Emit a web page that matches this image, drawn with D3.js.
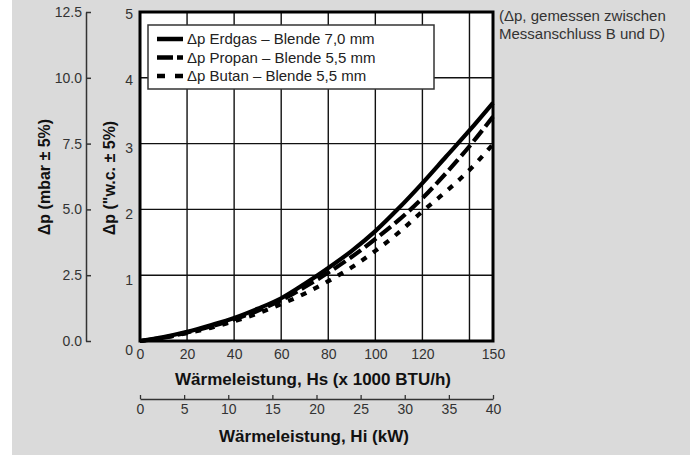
<!DOCTYPE html>
<html>
<head>
<meta charset="utf-8">
<script src="https://cdn.jsdelivr.net/npm/d3@7"></script>
<style>
  body { margin: 0; background: #fff; }
  text { font-family: "Liberation Sans", Arial, sans-serif; }
</style>
</head>
<body>
<svg id="chart" width="690" height="455"></svg>
<script>
// heat load Hs (x 1000 BTU/h)
const loadHs = [0, 10, 20, 30, 40, 50, 60, 70, 80, 90, 100, 110, 120, 130, 140, 150];
// pressure drop in "w.c.
const dpErdgas = [0, 0.06, 0.14, 0.24, 0.35, 0.49, 0.65, 0.87, 1.11, 1.37, 1.67, 2.02, 2.4, 2.8, 3.2, 3.62];
const dpPropan = [0, 0.05, 0.13, 0.22, 0.33, 0.46, 0.62, 0.82, 1.04, 1.28, 1.55, 1.84, 2.17, 2.55, 2.96, 3.41];
const dpButan = [0, 0.05, 0.12, 0.2, 0.3, 0.42, 0.56, 0.72, 0.91, 1.12, 1.37, 1.65, 1.97, 2.27, 2.6, 2.99];

const seriesNames = ["Δp Erdgas – Blende 7,0 mm", "Δp Propan – Blende 5,5 mm", "Δp Butan – Blende 5,5 mm"];

const hsTicks = [0, 20, 40, 60, 80, 100, 120, 150];
const hsGrid = [20, 40, 60, 80, 100, 120, 140];
const inwcTicks = [0, 1, 2, 3, 4, 5];
const mbarTicks = [0, 2.5, 5, 7.5, 10, 12.5];
const kwTicks = [0, 5, 10, 15, 20, 25, 30, 35, 40];

const svg = d3.select("#chart");

const x = d3.scaleLinear([0, 150], [140, 493]);
const xKw = d3.scaleLinear([0, 40], [140, 493]);
const y = d3.scaleLinear([0, 5], [341, 12]);
const yMbar = d3.scaleLinear([0, 12.5], [341, 12]);

// grey panel
svg.append("rect").attr("x", 12).attr("y", 0).attr("width", 678).attr("height", 455).attr("fill", "#dadada");

// plot area
svg.append("rect")
  .attr("x", x(0)).attr("y", y(5))
  .attr("width", x(150) - x(0)).attr("height", y(0) - y(5))
  .attr("fill", "#fff");

// grid
svg.append("g").selectAll("line").data(hsGrid).join("line")
  .attr("x1", d => x(d)).attr("x2", d => x(d))
  .attr("y1", y(0)).attr("y2", y(5))
  .attr("stroke", "#111").attr("stroke-width", 1.4);
svg.append("g").selectAll("line").data(inwcTicks.slice(1, -1)).join("line")
  .attr("x1", x(0)).attr("x2", x(150))
  .attr("y1", d => y(d)).attr("y2", d => y(d))
  .attr("stroke", "#111").attr("stroke-width", 1.4);

// curves
const styles = [
  { dash: null, legendDash: null },
  { dash: "14,5", legendDash: "16,4" },
  { dash: "6,8", legendDash: "8,10" },
];
const series = [dpErdgas, dpPropan, dpButan];
const line = d3.line()
  .x((d, i) => x(loadHs[i]))
  .y(d => y(d))
  .curve(d3.curveMonotoneX);

svg.append("g").selectAll("path").data(series).join("path")
  .attr("d", line)
  .attr("fill", "none")
  .attr("stroke", "#000")
  .attr("stroke-width", 4.2)
  .attr("stroke-dasharray", (d, i) => styles[i].dash);

// frame
svg.append("rect")
  .attr("x", x(0)).attr("y", y(5))
  .attr("width", x(150) - x(0)).attr("height", y(0) - y(5))
  .attr("fill", "none").attr("stroke", "#000").attr("stroke-width", 3);

// legend
const legend = svg.append("g");
legend.append("rect")
  .attr("x", 148).attr("y", 25).attr("width", 286).attr("height", 64)
  .attr("fill", "#fff").attr("stroke", "#333").attr("stroke-width", 1.5);
const rows = legend.selectAll("g").data(seriesNames).join("g")
  .attr("transform", (d, i) => `translate(157,${39 + i * 18.5})`);
rows.append("line")
  .attr("x1", 0).attr("x2", 26)
  .attr("stroke", "#000").attr("stroke-width", 4.5)
  .attr("stroke-dasharray", (d, i) => styles[i].legendDash);
rows.append("text")
  .attr("x", 30).attr("dy", "0.36em")
  .attr("font-size", 15).attr("fill", "#222")
  .text(d => d);

// inner y axis ("w.c.)
const axInwc = svg.append("g")
  .attr("transform", `translate(${x(0)},0)`)
  .call(d3.axisLeft(y).tickValues(inwcTicks).tickFormat(d3.format("d")).tickSize(0).tickPadding(7));
axInwc.select(".domain").remove();
axInwc.selectAll("text")
  .attr("font-size", 14).attr("fill", "#333").attr("font-family", null)
  .attr("dy", d => d === 0 ? "0.95em" : d >= 4 ? "0.45em" : "0.65em");

// outer y axis (mbar)
const axMbar = svg.append("g")
  .attr("transform", "translate(86,0)")
  .call(d3.axisLeft(yMbar).tickValues(mbarTicks).tickFormat(d3.format(".1f"))
    .tickSizeInner(-5).tickSizeOuter(0).tickPadding(4));
axMbar.selectAll("path, line").attr("stroke", "#333").attr("stroke-width", 1.5);
axMbar.selectAll("text").attr("font-size", 14).attr("fill", "#333").attr("font-family", null);

// Hs axis
const axHs = svg.append("g")
  .attr("transform", `translate(0,${y(0)})`)
  .call(d3.axisBottom(x).tickValues(hsTicks).tickSize(0).tickPadding(8));
axHs.select(".domain").remove();
axHs.selectAll("text").attr("font-size", 14).attr("fill", "#333").attr("font-family", null);

// kW axis
const axKw = svg.append("g")
  .attr("transform", "translate(0,399)")
  .call(d3.axisBottom(xKw).tickValues(kwTicks).tickSizeInner(-4).tickSizeOuter(0).tickPadding(5));
axKw.selectAll("path, line").attr("stroke", "#333").attr("stroke-width", 1.3);
axKw.selectAll("text").attr("font-size", 14).attr("fill", "#333").attr("font-family", null);

// titles
svg.append("text")
  .attr("x", 313).attr("y", 385)
  .attr("text-anchor", "middle").attr("font-size", 17).attr("font-weight", "bold").attr("fill", "#111")
  .text("Wärmeleistung, Hs (x 1000 BTU/h)");
svg.append("text")
  .attr("x", 314).attr("y", 442)
  .attr("text-anchor", "middle").attr("font-size", 17).attr("font-weight", "bold").attr("fill", "#111")
  .text("Wärmeleistung, Hi (kW)");
svg.append("text")
  .attr("transform", "translate(50,177) rotate(-90)")
  .attr("text-anchor", "middle").attr("font-size", 16).attr("font-weight", "bold").attr("fill", "#111")
  .text("Δp (mbar ± 5%)");
svg.append("text")
  .attr("transform", "translate(115,178) rotate(-90)")
  .attr("text-anchor", "middle").attr("font-size", 16).attr("font-weight", "bold").attr("fill", "#111")
  .text("Δp (\"w.c. ± 5%)");

// note
const note = svg.append("text").attr("font-size", 15).attr("fill", "#333");
note.append("tspan").attr("x", 499).attr("y", 21).text("(Δp, gemessen zwischen");
note.append("tspan").attr("x", 499).attr("y", 39).text("Messanschluss B und D)");
</script>
</body>
</html>
